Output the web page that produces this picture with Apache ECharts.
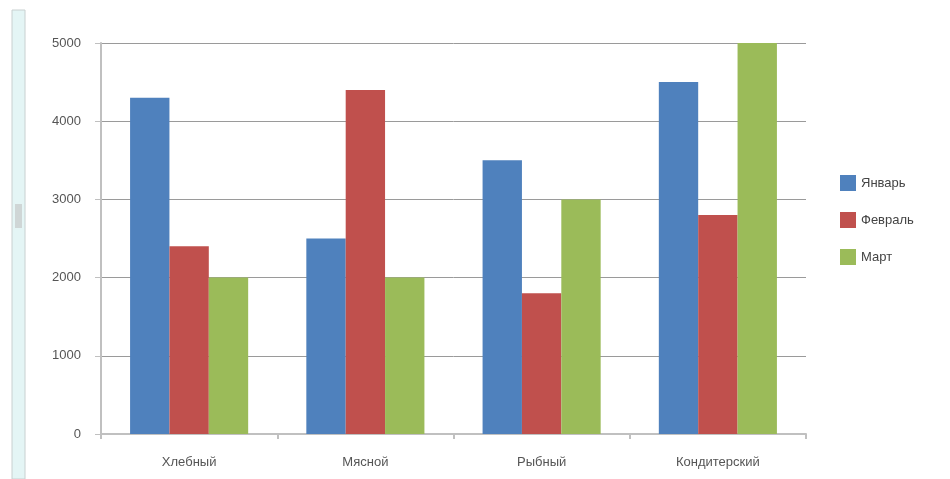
<!DOCTYPE html>
<html>
<head>
<meta charset="utf-8">
<script src="https://cdn.jsdelivr.net/npm/echarts@6/dist/echarts.min.js"></script>
<style>
  html, body { margin: 0; padding: 0; background: #fff; }
  #chart { width: 950px; height: 479px; }
</style>
</head>
<body>
<div id="chart"></div>
<script>
  // категории и значения
  const categories = ['Хлебный', 'Мясной', 'Рыбный', 'Кондитерский']
  const january = [4300, 2500, 3500, 4500]
  const february = [2400, 4400, 1800, 2800]
  const march = [2000, 2000, 3000, 5000]
  const yTicks = [0, 1000, 2000, 3000, 4000, 5000]

  const chart = echarts.init(document.getElementById('chart'))
  const textStyle = { fontFamily: 'Liberation Sans', fontSize: 13, color: '#555' }

  const option = {
    animation: false,
    textStyle: textStyle,
    graphic: [
      // полоска рамки слева
      { type: 'rect', shape: { x: 12, y: 10, width: 13, height: 469 },
        style: { fill: '#e4f5f5', stroke: '#c8d0d0', lineWidth: 1 } },
      { type: 'rect', shape: { x: 15, y: 204, width: 7, height: 24 },
        style: { fill: '#cfd6d6' } }
    ],
    grid: { left: 101, top: 43, right: 144, bottom: 45 },
    legend: {
      orient: 'vertical',
      left: 835,
      top: 170,
      itemWidth: 16,
      itemHeight: 16,
      itemGap: 21,
      icon: 'rect',
      textStyle: { fontFamily: 'Liberation Sans', fontSize: 13, color: '#444' },
      data: ['Январь', 'Февраль', 'Март']
    },
    xAxis: {
      type: 'category',
      data: categories,
      axisLine: { lineStyle: { color: '#c0c0c0', width: 2 } },
      axisTick: { show: true, length: 5, lineStyle: { color: '#c0c0c0', width: 2 } },
      axisLabel: { margin: 22, color: '#555', fontSize: 13 }
    },
    yAxis: {
      type: 'value',
      min: yTicks[0],
      max: yTicks[yTicks.length - 1],
      interval: 1000,
      axisLine: { show: true, lineStyle: { color: '#c0c0c0', width: 2 } },
      axisTick: { show: true, length: 6, lineStyle: { color: '#c0c0c0', width: 1 } },
      axisLabel: { margin: 20, color: '#555', fontSize: 13, formatter: (v) => String(v) },
      splitLine: { lineStyle: { color: '#9a9a9a', width: 1 } }
    },
    series: [
      { name: 'Январь', type: 'bar', data: january, barGap: 0, barCategoryGap: '33%',
        itemStyle: { color: '#4F81BD' } },
      { name: 'Февраль', type: 'bar', data: february, barGap: 0, barCategoryGap: '33%',
        itemStyle: { color: '#C0504D' } },
      { name: 'Март', type: 'bar', data: march, barGap: 0, barCategoryGap: '33%',
        itemStyle: { color: '#9BBB59' } }
    ]
  }
  chart.setOption(option)
</script>
</body>
</html>
